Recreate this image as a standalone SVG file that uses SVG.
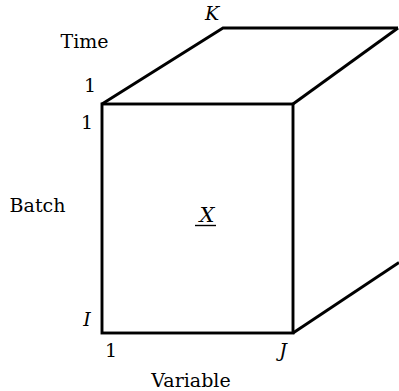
<svg xmlns="http://www.w3.org/2000/svg" width="399" height="391" viewBox="0 0 399 391">
<style>
.e{fill:none;stroke:#000;stroke-width:2.9;stroke-linejoin:miter}
text{font-family:"DejaVu Serif","Liberation Serif",serif;font-size:19px;fill:#000}
.i{font-style:italic}
.c{text-anchor:middle}
</style>
<rect width="399" height="391" fill="#fff"/>
<g id="connectors">
<polyline class="e" points="102,104 223,28 398,28"/>
<line class="e" x1="398" y1="28" x2="293" y2="104"/>
<line class="e" x1="293" y1="333" x2="399" y2="262.5"/>
</g>
<g id="front">
<rect class="e" x="102" y="104" width="191" height="229"/>
<text class="i c" x="207" y="222" style="font-size:21px">X</text>
<line x1="195" y1="225.5" x2="216" y2="225.5" stroke="#000" stroke-width="1.4"/>
</g>
<g id="labels">
<text class="c" x="84.5" y="48">Time</text>
<text class="c" x="37.5" y="212">Batch</text>
<text class="c" x="191" y="387">Variable</text>
<text x="84" y="92">1</text>
<text x="81" y="129">1</text>
<text x="105" y="357">1</text>
<text class="i c" x="212" y="20">K</text>
<text class="i c" x="87" y="326">I</text>
<text class="i c" x="283" y="357">J</text>
</g>
</svg>
